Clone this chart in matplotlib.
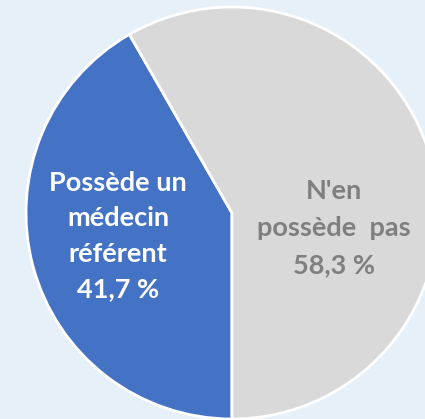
import matplotlib.pyplot as plt

# données
categories = ["Possède un\nmédecin\nréférent", "N'en\npossède  pas"]
valeurs = [41.7, 58.3]
couleurs = ["#4472C4", "#D9D9D9"]
couleurs_texte = ["white", "#7F7F7F"]

W, H = 425, 419
fig = plt.figure(figsize=(W / 100, H / 100), dpi=100)
fig.patch.set_facecolor("#E6F0F9")
ax = fig.add_axes([0, 0, 1, 1])
ax.set_facecolor("#E6F0F9")

cx, cy, r = 232, H - 213, 206
ax.pie(valeurs, colors=couleurs, startangle=270, counterclock=False,
       center=(cx, cy), radius=r,
       wedgeprops=dict(edgecolor="white", linewidth=2))

ax.set_xlim(0, W)
ax.set_ylim(0, H)
ax.set_aspect("equal")
ax.axis("off")

# positions des étiquettes (pixels depuis le haut) et interlignes
positions = [(118, 236), (334, 228)]
interlignes = [1.56, 1.64]
for cat, val, col, (x, y), ls in zip(categories, valeurs, couleurs_texte,
                                      positions, interlignes):
    texte = f"{cat}\n{val:.1f} %".replace(".", ",")
    ax.text(x, H - y, texte, ha="center", va="center", color=col,
            fontsize=19.5, fontweight="bold", family="Lato",
            linespacing=ls)

plt.savefig("out.png", dpi=100, facecolor=fig.get_facecolor())
